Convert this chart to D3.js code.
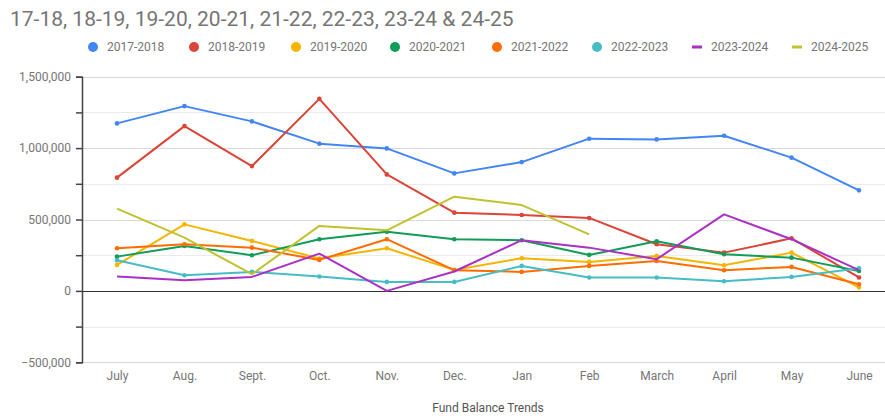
<!DOCTYPE html>
<html lang="en">
<head>
<meta charset="utf-8">
<title>Fund Balance Trends</title>
<style type="text/css">
  body { margin: 0; background: #fff; }
  text { font-family: Roboto, "Noto Sans", sans-serif; }
</style>
</head>
<body>
<script src="https://d3js.org/d3.v7.min.js"></script>
<script>

    var months = ["July","Aug.","Sept.","Oct.","Nov.","Dec.","Jan","Feb","March","April","May","June"];
    var seriesNames = ["2017-2018","2018-2019","2019-2020","2020-2021","2021-2022","2022-2023","2023-2024","2024-2025"];
    var seriesColors = ["#4285f4","#db4437","#f4b400","#0f9d58","#ff6d00","#46bdc6","#ab30c4","#c2c12e"];
    var showPoints = [true,true,true,true,true,true,false,false];

    var fy1718 = [1173000,1294000,1187000,1031000,998000,823000,902000,1066000,1061000,1087000,933000,704000];
    var fy1819 = [793000,1154000,874000,1345000,816000,548000,532000,511000,327000,268000,368000,94000];
    var fy1920 = [182000,466000,350000,227000,299000,147000,229000,203000,245000,180000,268000,24000];
    var fy2021 = [240000,315000,250000,362000,415000,362000,355000,252000,348000,257000,233000,140000];
    var fy2122 = [299000,327000,303000,217000,362000,145000,133000,175000,210000,145000,168000,47000];
    var fy2223 = [215000,110000,133000,101000,63000,63000,175000,94000,94000,68000,98000,159000];
    var fy2324 = [101000,75000,98000,261000,0,136000,355000,303000,222000,536000,362000,145000];
    var fy2425 = [576000,373000,117000,455000,424000,660000,601000,396000];

    var yTicks = [-500000,-250000,0,250000,500000,750000,1000000,1250000,1500000];
    var yLabels = [-500000,0,500000,1000000,1500000];

    var allSeries = [fy1718,fy1819,fy1920,fy2021,fy2122,fy2223,fy2324,fy2425];

    var W = 885, H = 416;
    var svg = d3.select("body").append("svg")
        .attr("width", W)
        .attr("height", H);

    var xScale = d3.scalePoint()
        .domain(months)
        .range([117, 859]);

    var yScale = d3.scaleLinear()
        .domain([-500000, 1500000])
        .range([362.3, 76.7]);

    var plotLeft = 82, plotRight = 885;

    // gridlines
    svg.append("g").selectAll("line")
        .data(yTicks)
        .enter().append("line")
        .attr("x1", plotLeft).attr("x2", plotRight)
        .attr("y1", function(d){ return Math.round(yScale(d)) + 0.5; })
        .attr("y2", function(d){ return Math.round(yScale(d)) + 0.5; })
        .attr("stroke", function(d){ return d === 0 ? "#333" : (d % 500000 === 0 ? "#d9d9d9" : "#ebebeb"); })
        .attr("stroke-width", function(d){ return d === 0 ? 1.2 : 1; });

    // left axis
    var yAxis = d3.axisLeft(yScale)
        .tickValues(yTicks)
        .tickSize(6)
        .tickFormat(function(d){ return yLabels.indexOf(d) >= 0 ? d3.format(",")(d) : ""; });

    var yAxisGroup = svg.append("g")
        .attr("transform", "translate(" + plotLeft + ",0)")
        .call(yAxis);
    yAxisGroup.select(".domain").attr("stroke", "#444").attr("stroke-width", 1.5);
    yAxisGroup.selectAll(".tick line").attr("stroke", "#444").attr("stroke-width", 1.5);
    yAxisGroup.selectAll(".tick text")
        .attr("x", -11)
        .attr("fill", "#757575")
        .style("font-size", "12px")
        .style("font-family", "Roboto, sans-serif");

    // bottom labels
    var xAxis = d3.axisBottom(xScale).tickSize(0).tickPadding(0);
    var xAxisGroup = svg.append("g")
        .attr("transform", "translate(0,371)")
        .call(xAxis);
    xAxisGroup.select(".domain").remove();
    xAxisGroup.selectAll(".tick text")
        .attr("fill", "#757575")
        .style("font-size", "12px")
        .style("font-family", "Roboto, sans-serif");

    // lines
    var line = d3.line()
        .x(function(d,i){ return xScale(months[i]); })
        .y(function(d){ return yScale(d); });

    allSeries.forEach(function(s, k){
        svg.append("path")
            .datum(s)
            .attr("fill", "none")
            .attr("stroke", seriesColors[k])
            .attr("stroke-width", 2)
            .attr("stroke-linejoin", "round")
            .attr("d", line);
        if (showPoints[k]) {
            svg.append("g").selectAll("circle")
                .data(s)
                .enter().append("circle")
                .attr("cx", function(d,i){ return xScale(months[i]); })
                .attr("cy", function(d){ return yScale(d); })
                .attr("r", 2.3)
                .attr("fill", seriesColors[k]);
        }
    });

    // title
    svg.append("text")
        .attr("x", 10).attr("y", 26)
        .attr("fill", "#757575")
        .style("font-size", "21px")
        .text("17-18, 18-19, 19-20, 20-21, 21-22, 22-23, 23-24 & 24-25");

    // legend
    var legendX = [93, 194, 296, 395, 497, 597, 697, 797];
    var legend = svg.append("g").selectAll("g")
        .data(seriesNames)
        .enter().append("g")
        .attr("transform", function(d,i){ return "translate(" + legendX[i] + ",47)"; });

    legend.each(function(d,i){
        var g = d3.select(this);
        if (showPoints[i]) {
            g.append("circle").attr("r", 5).attr("fill", seriesColors[i]);
        } else {
            g.append("rect").attr("x", -5).attr("y", -1.5).attr("width", 10).attr("height", 3)
                .attr("fill", seriesColors[i]);
        }
        g.append("text")
            .attr("x", 14).attr("y", 4)
            .attr("fill", "#757575")
            .style("font-size", "12px")
            .text(d);
    });

    // x title
    svg.append("text")
        .attr("x", 488).attr("y", 412)
        .attr("text-anchor", "middle")
        .attr("fill", "#555")
        .style("font-size", "12px")
        .text("Fund Balance Trends");

</script>
</body>
</html>
